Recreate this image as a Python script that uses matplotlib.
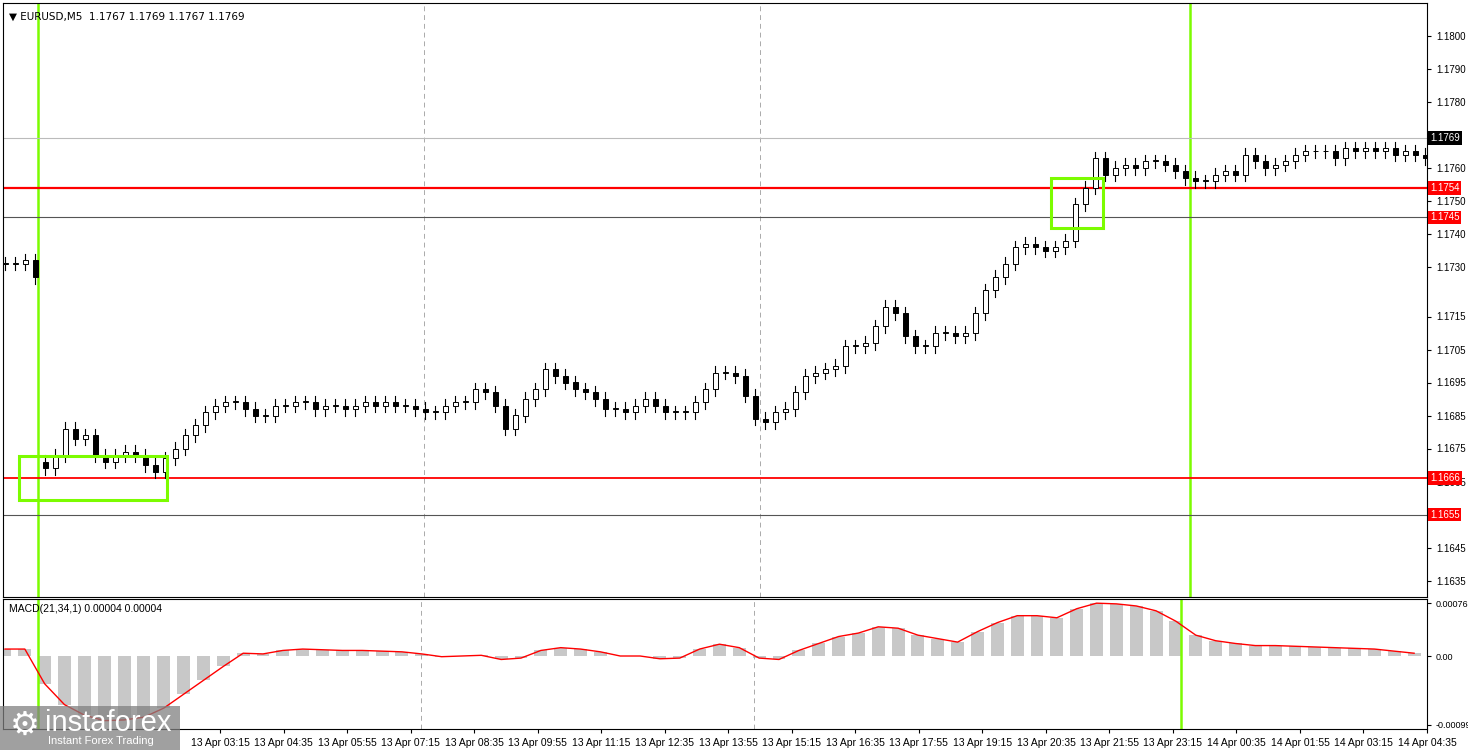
import matplotlib
matplotlib.use("Agg")
import matplotlib.pyplot as plt
from matplotlib.patches import Rectangle

# closes, one candle every 10 px
closes = [1.1731, 1.1731, 1.1732, 1.1727, 1.1669, 1.1673, 1.1681, 1.1678, 1.1679, 1.1673,
          1.1671, 1.1673, 1.1674, 1.1673, 1.1670, 1.1668, 1.1672, 1.1675, 1.1679, 1.1682,
          1.1686, 1.1688, 1.1689, 1.1689, 1.1687, 1.1685, 1.1685, 1.1688, 1.1688, 1.1689,
          1.1689, 1.1687, 1.1688, 1.1688, 1.1687, 1.1688, 1.1689, 1.1688, 1.1689, 1.1688,
          1.1688, 1.1687, 1.1686, 1.1686, 1.1688, 1.1689, 1.1689, 1.1693, 1.1692, 1.1688,
          1.1681, 1.1685, 1.1690, 1.1693, 1.1699, 1.1697, 1.1695, 1.1693, 1.1692, 1.1690,
          1.1687, 1.1687, 1.1686, 1.1688, 1.1690, 1.1688, 1.1686, 1.1686, 1.1686, 1.1689,
          1.1693, 1.1698, 1.1698, 1.1697, 1.1691, 1.1684, 1.1683, 1.1686, 1.1687, 1.1692,
          1.1697, 1.1698, 1.1699, 1.1700, 1.1706, 1.1706, 1.1707, 1.1712, 1.1718, 1.1716,
          1.1709, 1.1706, 1.1706, 1.1710, 1.1710, 1.1709, 1.1710, 1.1716, 1.1723, 1.1727,
          1.1731, 1.1736, 1.1737, 1.1736, 1.1735, 1.1736, 1.1738, 1.1749, 1.1754, 1.1763,
          1.1758, 1.1760, 1.1761, 1.1760, 1.1762, 1.1762, 1.1761, 1.1759, 1.1757, 1.1756,
          1.1756, 1.1758, 1.1759, 1.1758, 1.1764, 1.1762, 1.1760, 1.1761, 1.1762, 1.1764,
          1.1765, 1.1765, 1.1765, 1.1763, 1.1766, 1.1765, 1.1766, 1.1765, 1.1766, 1.1764,
          1.1765, 1.1764, 1.1763]

# MACD histogram, one value every 20 px (units 1e-5)
macd = [10, 10, -40, -70, -85, -93, -92, -88, -75, -55, -35, -15, 4, 3, 8, 10, 9, 8, 8, 7,
        6, 3, -1, 0, 1, -5, -3, 8, 12, 10, 6, 0, 0, -4, -3, 10, 17, 12, -3, -5,
        8, 18, 28, 33, 42, 40, 30, 25, 20, 35, 48, 58, 58, 55, 68, 76, 75, 72, 65, 50,
        30, 22, 18, 15, 15, 14, 13, 12, 11, 10, 7, 4]

price_ticks = [1.1800, 1.1790, 1.1780, 1.1760, 1.1750, 1.1740, 1.1730, 1.1715, 1.1705,
               1.1695, 1.1685, 1.1675, 1.1665, 1.1645, 1.1635]
time_labels = ["13 Apr 03:15", "13 Apr 04:35", "13 Apr 05:55", "13 Apr 07:15", "13 Apr 08:35",
               "13 Apr 09:55", "13 Apr 11:15", "13 Apr 12:35", "13 Apr 13:55", "13 Apr 15:15",
               "13 Apr 16:35", "13 Apr 17:55", "13 Apr 19:15", "13 Apr 20:35", "13 Apr 21:55",
               "13 Apr 23:15", "14 Apr 00:35", "14 Apr 01:55", "14 Apr 03:15", "14 Apr 04:35"]
time_x0, time_step = 222, 64

levels_red = [1.1754, 1.1666]
levels_dark = [1.1745, 1.1655]
last_price = 1.1769

W, H = 1468, 750
fig = plt.figure(figsize=(W / 100, H / 100), dpi=100)
plt.rcParams["font.family"] = ["Liberation Sans", "DejaVu Sans"]
ax = fig.add_axes([3 / W, 1 - 597 / H, 1424 / W, 594 / H])
am = fig.add_axes([3 / W, 1 - 729 / H, 1424 / W, 130 / H])

ymin = 1.1800 - (597 - 36) / 33000
ymax = 1.1800 + 33 / 33000

# candles
prev = closes[0]
for i, c in enumerate(closes):
    x = 2 + 10 * i
    o = prev if abs(c - prev) < 0.003 else c + 0.0002   # weekend gap
    hi = max(o, c) + 0.0002
    lo = min(o, c) - 0.0002
    ax.plot([x, x], [lo, hi], color="black", lw=0.8, zorder=3)
    body = max(abs(c - o), 0.00003)
    ax.add_patch(Rectangle((x - 2.5, min(o, c)), 5, body, facecolor="white" if c >= o else "black",
                           edgecolor="black", lw=0.7, zorder=4))
    prev = c

# MACD pane
mx = [2 + 20 * i for i in range(len(macd))]
mv = [v * 1e-5 for v in macd]
am.bar(mx, mv, width=13, color="#c8c8c8", zorder=2)
am.plot(mx, mv, color="red", lw=1, zorder=3)

for a in (ax, am):
    a.set_xlim(0, 1424)
    a.tick_params(left=False, labelleft=False, right=True, labelright=True,
                  direction="out", length=3, labelsize=7)
    for s in a.spines.values():
        s.set_linewidth(0.8)
    a.axvline(424 - 3, color="#aaaaaa", ls=(0, (5, 4)), lw=0.7)
    a.axvline(760 - 3, color="#aaaaaa", ls=(0, (5, 4)), lw=0.7)
    a.axvline(38 - 3, color="#7cfc00", lw=1.8)
    a.axvline(1190 - 3, color="#7cfc00", lw=1.8)
ax.set_ylim(ymin, ymax)
ax.set_xticks([])
ax.set_yticks(price_ticks)
ax.set_yticklabels([f"{t:.4f}" for t in price_ticks])

ax.axhline(last_price, color="#bbbbbb", lw=0.8)
for lv in levels_red:
    ax.axhline(lv, color="red", lw=1.6 if lv == 1.1754 else 1.3)
for lv in levels_dark:
    ax.axhline(lv, color="#555555", lw=0.8)

def tag(a, y, txt, bg):
    a.text(1.002, y, txt, transform=a.get_yaxis_transform(), fontsize=7, color="white",
           va="center", ha="left", bbox=dict(boxstyle="square,pad=0.2", fc=bg, ec="none"), zorder=10)

tag(ax, last_price, "1.1769", "black")
for lv in levels_red + levels_dark:
    tag(ax, lv, f"{lv:.4f}", "red")

# green boxes
ax.add_patch(Rectangle((19 - 3, 1.16594), 148, 1.16728 - 1.16594, fill=False, ec="#7cfc00", lw=2.2, zorder=6))
ax.add_patch(Rectangle((1051 - 3, 1.17418), 52, 1.17570 - 1.17418, fill=False, ec="#7cfc00", lw=2.2, zorder=6))

ax.text(0.004, 0.985, "\u25bc EURUSD,M5  1.1767 1.1769 1.1767 1.1769", transform=ax.transAxes,
        fontsize=7.5, va="top", family=["DejaVu Sans"])

am.set_ylim(-0.00105, 0.00082)
am.set_yticks([0.00076, 0.0, -0.00099])
am.set_yticklabels(["0.00076", "0.00", "-0.00099"], fontsize=6.5)
am.set_xticks([time_x0 - 3 + time_step * k for k in range(len(time_labels))])
am.set_xticklabels(time_labels, fontsize=7.5)
am.tick_params(axis="x", length=3)
am.text(0.004, 0.96, "MACD(21,34,1) 0.00004 0.00004", transform=am.transAxes, fontsize=7.5, va="top")

# watermark
fig.patches.append(Rectangle((0, 0), 180 / W, 44 / H, transform=fig.transFigure,
                             fc="#808080", alpha=0.75, ec="none", zorder=20))
fig.text(45 / W, 27 / H, "instaforex", color="white", fontsize=21, va="center", zorder=21)
fig.text(48 / W, 9 / H, "Instant Forex Trading", color="white", fontsize=8, va="center", zorder=21)
fig.text(10 / W, 24 / H, "\u2699", color="white", fontsize=24, va="center", zorder=21)

fig.savefig("out.png", dpi=100)
